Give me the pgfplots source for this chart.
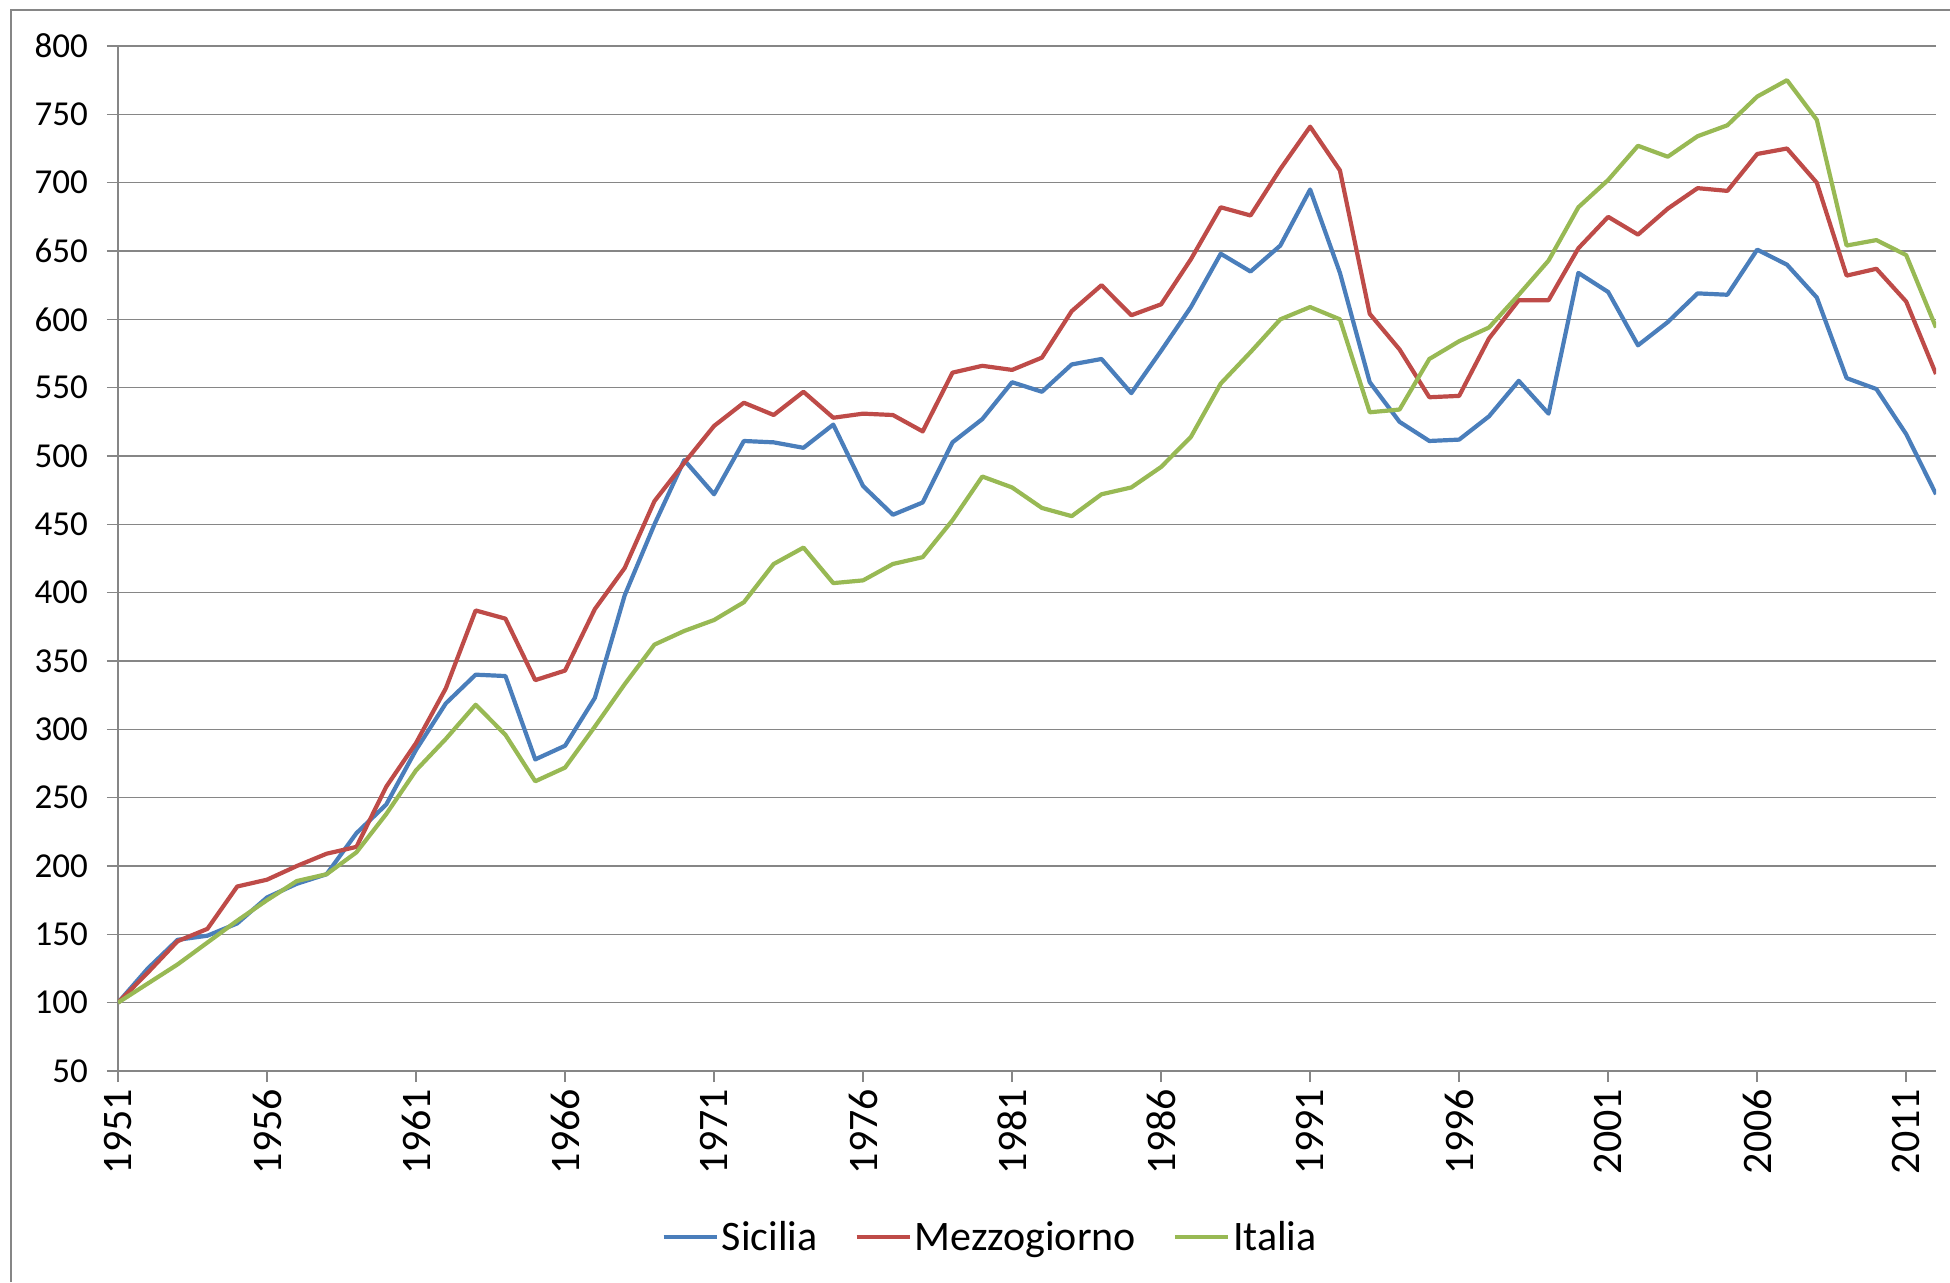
\documentclass[border=0pt]{standalone}
\usepackage{fontspec}
\setmainfont{Carlito}
\usepackage{pgfplots}
\pgfplotsset{compat=1.18}
\usepackage{pgfplotstable}
\definecolor{sic}{HTML}{4A7EBB}
\definecolor{mez}{HTML}{BE4B48}
\definecolor{ita}{HTML}{98B954}
\definecolor{gridc}{HTML}{868686}
\pgfplotstableread{
year sic mez ita
1951 100 100 100
1952 125 122 114
1953 146 145 128
1954 149 154 144
1955 158 185 160
1956 177 190 175
1957 187 200 189
1958 194 209 194
1959 224 214 210
1960 245 258 238
1961 285 290 270
1962 319 330 293
1963 340 387 318
1964 339 381 296
1965 278 336 262
1966 288 343 272
1967 323 388 302
1968 398 418 333
1969 450 467 362
1970 497 495 372
1971 472 522 380
1972 511 539 393
1973 510 530 421
1974 506 547 433
1975 523 528 407
1976 478 531 409
1977 457 530 421
1978 466 518 426
1979 510 561 453
1980 527 566 485
1981 554 563 477
1982 547 572 462
1983 567 606 456
1984 571 625 472
1985 546 603 477
1986 577 611 492
1987 609 644 514
1988 648 682 553
1989 635 676 576
1990 654 710 600
1991 695 741 609
1992 634 709 600
1993 554 604 532
1994 525 578 534
1995 511 543 571
1996 512 544 584
1997 529 586 594
1998 555 614 618
1999 531 614 643
2000 634 652 682
2001 620 675 702
2002 581 662 727
2003 598 681 719
2004 619 696 734
2005 618 694 742
2006 651 721 763
2007 640 725 775
2008 616 700 746
2009 557 632 654
2010 549 637 658
2011 516 613 647
2012 472 560 594
}\data
\begin{document}
\begin{tikzpicture}[x=1pt,y=1pt]
\useasboundingbox (-59,-105.5) rectangle (916,535.5);
\draw[gridc, line width=0.75pt] (-53.5,-105.5) -- (-53.5,530.5) -- (916,530.5);
\begin{axis}[at={(0,0)}, anchor=south west, scale only axis,
  width=909pt, height=512.5pt,
  xmin=1951, xmax=2012, ymin=50, ymax=800,
  xtick={1951,1956,...,2011}, ytick={50,100,...,800},
  axis x line=bottom, axis y line=left,
  axis line style={-, gridc, line width=0.75pt},
  ymajorgrids, major grid style={gridc, line width=0.75pt},
  tick align=outside, major tick length=5.5pt,
  tick style={gridc, line width=0.75pt},
  /pgf/number format/assume math mode=true,
  x tick label style={rotate=90, anchor=east, font=\fontsize{21}{21}\selectfont, /pgf/number format/1000 sep={}},
  y tick label style={font=\fontsize{17.5}{17.5}\selectfont, xshift=-6pt},
  legend style={at={(0.48,-0.162)}, anchor=center, draw=none, fill=none,
    legend columns=3, font=\fontsize{21}{21}\selectfont,
    /tikz/every even column/.append style={column sep=17pt},
    nodes={inner xsep=1.5pt}},
  legend image code/.code={\draw[#1] (0pt,0pt) -- (26.5pt,0pt);},
  no markers,
  every axis plot/.append style={line width=2.1pt, line join=round},
]
\addplot[sic] table[x=year,y=sic]{\data};
\addlegendentry{Sicilia}
\addplot[mez] table[x=year,y=mez]{\data};
\addlegendentry{Mezzogiorno}
\addplot[ita] table[x=year,y=ita]{\data};
\addlegendentry{Italia}
\end{axis}
\end{tikzpicture}
\end{document}
